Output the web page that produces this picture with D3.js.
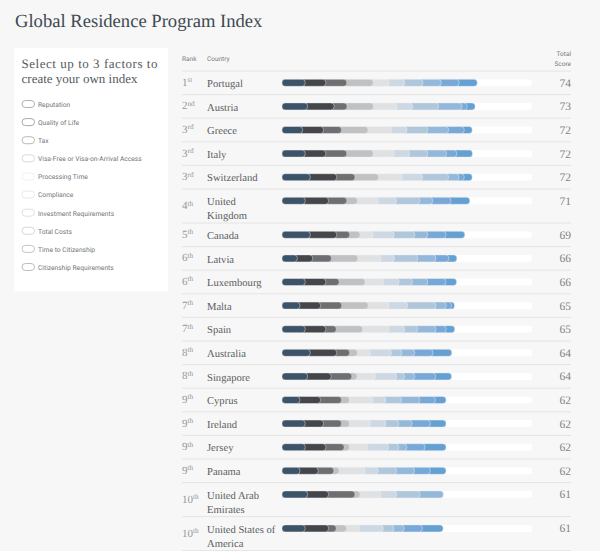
<!DOCTYPE html>
<html><head><meta charset="utf-8">
<script src="https://cdn.jsdelivr.net/npm/d3@7"></script>
<style>
html,body{margin:0;padding:0;background:#f7f7f7}
svg{display:block;text-rendering:geometricPrecision}
.s{font-family:"Liberation Serif",serif}
.n{font-family:Roboto,sans-serif}
</style></head><body><svg id="c" width="600" height="551"></svg>
<script>
const title = "Global Residence Program Index";
const panelTitle = ["Select up to 3 factors to", "create your own index"];
const factors = ["Reputation","Quality of Life","Tax","Visa-Free or Visa-on-Arrival Access","Processing Time","Compliance","Investment Requirements","Total Costs","Time to Citizenship","Citizenship Requirements"];
const factorColors = ["#3d5368","#444649","#6e6f71","#bfc1c2","#e0e1e2","#cdd8e2","#b0c6da","#94b8d9","#78a8d8","#64a0d2"];
const toggleColors = ["#a9a9a9","#a0a0a0","#b0b0b0","#d5d5d5","#eeeeee","#e6e6e6","#dddddd","#d2d2d2","#bdbdbd","#b5b5b5"];
const countries = ["Portugal","Austria","Greece","Italy","Switzerland","United|Kingdom","Canada","Latvia","Luxembourg","Malta","Spain","Australia","Singapore","Cyprus","Ireland","Jersey","Panama","United Arab|Emirates","United States of|America"];
const ranks = [1,2,3,3,3,4,5,6,6,7,7,8,8,9,9,9,9,10,10];
const suffixes = ["st","nd","rd","rd","rd","th","th","th","th","th","th","th","th","th","th","th","th","th","th"];
const scores = [74,73,72,72,72,71,69,66,66,65,65,64,64,62,62,62,62,61,61];
const segments = [
 [8.8,7.8,7.9,10,6,5.9,6.9,6.9,6.8,6.8],
 [9.7,10,4.9,10,8.9,5.9,9.8,8.9,1.9,3],
 [7.8,7.9,6.8,10,8.9,5.9,7.8,7.9,5.9,3],
 [8.8,7.8,7.9,10,7.9,5.9,6.8,7.1,3.9,5.9],
 [10.7,10,6.9,8.9,8.9,7.8,9.8,3.9,2,3],
 [8.8,8.8,6.9,4,7.9,6.9,8.8,4.9,6.9,7.1],
 [10.7,10,4.9,3.9,5,7.9,7.8,4.9,6.9,7.1],
 [5.8,5.8,7.1,10,8.8,5,8.8,6.9,4.9,3],
 [8.8,7.8,5,9.8,7.1,5.8,5,5.8,6.9,4],
 [6.8,7.8,8,10,7.9,7,10.7,3.9,2,1.1],
 [8.8,7.8,3.9,10,10,5.9,4.9,6.9,3.9,3.2],
 [10.7,10,4.9,2.9,5,7.9,3.9,4.9,6.9,7.1],
 [9.7,8.9,7.8,2,6.9,8.1,2.9,3.9,7.9,6],
 [6.8,7.8,7.9,3,8.9,4.9,5.9,6.9,5.9,4],
 [8.8,6.9,6.8,3,7.9,5.9,4.9,5,6.9,5.9],
 [8.8,7.8,6.9,2,6.9,7.9,3.9,3,6.9,7.9],
 [6.8,6.9,5.9,2,9.8,5,6.9,6.8,6,5.9],
 [9.7,7.9,10,1.9,7.9,6,8.8,8.8,0,0],
 [8.8,8.8,2.9,3.9,5,8.9,4,3.9,6.9,7.8]
];
const svg = d3.select("#c");
svg.append("text").attr("class","s").attr("x",15).attr("y",27).attr("font-size",18.6).attr("fill","#3e4a52").text(title);

// panel
svg.append("rect").attr("x",14).attr("y",48).attr("width",154).attr("height",243.5).attr("rx",2).attr("fill","#fff");
svg.selectAll(".pt").data(panelTitle).join("text").attr("class","pt s").attr("x",21.5).attr("y",(d,i)=>67.5+i*15.7).attr("font-size",13).attr("fill","#555b60").attr("textLength",(d,i)=>i?116:136).attr("lengthAdjust","spacing").text(d=>d);
const fy = d3.scalePoint().domain(factors).range([104,267]);
const fg = svg.selectAll(".f").data(factors).join("g").attr("class","f").attr("transform",d=>`translate(0,${fy(d)})`);
fg.append("rect").attr("x",22).attr("y",-3.5).attr("width",12.5).attr("height",7).attr("rx",3.5).attr("fill","#fff").attr("stroke",(d,i)=>toggleColors[i]).attr("stroke-width",0.9);
fg.append("text").attr("class","n").attr("x",38).attr("y",2.9).attr("font-size",6.7).attr("fill","#70757a").text(d=>d);

// table
const left=182, right=571, top0=71, unit=23.6, extra=10.4;
const x = d3.scaleLinear().domain([0,94.5]).range([282,532]);
const heights = countries.map(c=>unit+(c.includes("|")?extra:0));
const tops = d3.cumsum([top0,...heights]);
const barH = 7;

[["Rank",left,61,"start"],["Country",207,61,"start"],["Total",right,56,"end"],["Score",right,66,"end"]].forEach(h=>
  svg.append("text").attr("class","n").attr("x",h[1]).attr("y",h[2]).attr("text-anchor",h[3]).attr("font-size",6.5).attr("fill","#777").text(h[0]));

svg.selectAll(".sep").data(tops).join("line").attr("class","sep").attr("x1",left).attr("x2",right).attr("y1",d=>d).attr("y2",d=>d).attr("stroke","#e4e4e4").attr("stroke-width",1);

const row = svg.selectAll(".r").data(countries).join("g").attr("class","r").attr("transform",(d,i)=>`translate(0,${tops[i]})`);
row.each(function(c,i){
  const g=d3.select(this), h=heights[i], mid=11.8;
  const rk=g.append("text").attr("class","s").attr("x",left).attr("y",h/2+3).attr("font-size",11).attr("fill","#94989c");
  rk.append("tspan").text(ranks[i]);
  rk.append("tspan").attr("dy",-3.5).attr("font-size",7.2).text(suffixes[i]);
  c.split("|").forEach((l,k)=>g.append("text").attr("class","s").attr("x",207).attr("y",16+k*14).attr("font-size",10.6).attr("fill","#585c60").text(l));
  g.append("text").attr("class","s").attr("x",right).attr("y",mid+4).attr("text-anchor","end").attr("font-size",11.5).attr("fill","#808284").text(scores[i]);
  g.append("rect").attr("x",x(0)).attr("y",mid-barH/2).attr("width",x(94.5)-x(0)).attr("height",barH).attr("rx",3).attr("fill","#fff");
  const cum=d3.cumsum(segments[i]);
  const parts=segments[i].map((v,j)=>({v,j,end:cum[j],start:cum[j]-v})).filter(d=>d.v>0).reverse();
  g.selectAll(".seg").data(parts).join("rect").attr("class","seg")
    .attr("x",d=>d.j===0?x(0):x(d.start)-4)
    .attr("y",mid-barH/2)
    .attr("width",d=>x(d.end)-(d.j===0?x(0):x(d.start)-4))
    .attr("height",barH).attr("rx",3.2)
    .attr("fill",d=>factorColors[d.j])
    .attr("stroke","#eef2f5").attr("stroke-width",0.45);
});
</script></body></html>
